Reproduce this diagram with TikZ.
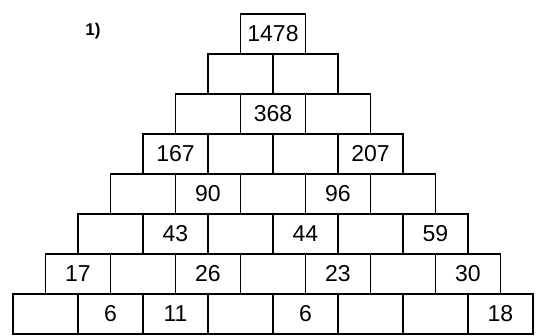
\documentclass[tikz,border=0pt]{standalone}
\usepackage{fontspec}
\setmainfont{Liberation Sans}
\usetikzlibrary{positioning}

\begin{document}
\begin{tikzpicture}[
		x=1pt, y=-1pt,
		font=\fontsize{23}{26}\selectfont,
		cell/.style={draw, line width=1.6pt, minimum width=65pt, minimum height=40pt, inner sep=0pt, outer sep=0pt},
		tag/.style={font=\fontsize{17}{19}\selectfont\bfseries}
		]
		\useasboundingbox (0,0) rectangle (539,336);
		
		% Task number
		\node[tag] (num) at (93,31) {1)};
		
		% Row 1: top brick
		\node[cell] (r1c1) at (273,34) {1478};
		
		% Row 2
		\node[cell] (r2c1) at (240.5,74) {};
		\node[cell, right=0pt of r2c1] (r2c2) {};
		
		% Row 3
		\node[cell] (r3c1) at (208,114) {};
		\node[cell, right=0pt of r3c1] (r3c2) {368};
		\node[cell, right=0pt of r3c2] (r3c3) {};
		
		% Row 4
		\node[cell] (r4c1) at (175.5,154) {167};
		\node[cell, right=0pt of r4c1] (r4c2) {};
		\node[cell, right=0pt of r4c2] (r4c3) {};
		\node[cell, right=0pt of r4c3] (r4c4) {207};
		
		% Row 5
		\node[cell] (r5c1) at (143,194) {};
		\node[cell, right=0pt of r5c1] (r5c2) {90};
		\node[cell, right=0pt of r5c2] (r5c3) {};
		\node[cell, right=0pt of r5c3] (r5c4) {96};
		\node[cell, right=0pt of r5c4] (r5c5) {};
		
		% Row 6
		\node[cell] (r6c1) at (110.5,234) {};
		\node[cell, right=0pt of r6c1] (r6c2) {43};
		\node[cell, right=0pt of r6c2] (r6c3) {};
		\node[cell, right=0pt of r6c3] (r6c4) {44};
		\node[cell, right=0pt of r6c4] (r6c5) {};
		\node[cell, right=0pt of r6c5] (r6c6) {59};
		
		% Row 7
		\node[cell] (r7c1) at (78,274) {17};
		\node[cell, right=0pt of r7c1] (r7c2) {};
		\node[cell, right=0pt of r7c2] (r7c3) {26};
		\node[cell, right=0pt of r7c3] (r7c4) {};
		\node[cell, right=0pt of r7c4] (r7c5) {23};
		\node[cell, right=0pt of r7c5] (r7c6) {};
		\node[cell, right=0pt of r7c6] (r7c7) {30};
		
		% Row 8: base
		\node[cell] (r8c1) at (45.5,314) {};
		\node[cell, right=0pt of r8c1] (r8c2) {6};
		\node[cell, right=0pt of r8c2] (r8c3) {11};
		\node[cell, right=0pt of r8c3] (r8c4) {};
		\node[cell, right=0pt of r8c4] (r8c5) {6};
		\node[cell, right=0pt of r8c5] (r8c6) {};
		\node[cell, right=0pt of r8c6] (r8c7) {};
		\node[cell, right=0pt of r8c7] (r8c8) {18};
		
	\end{tikzpicture}
\end{document}
